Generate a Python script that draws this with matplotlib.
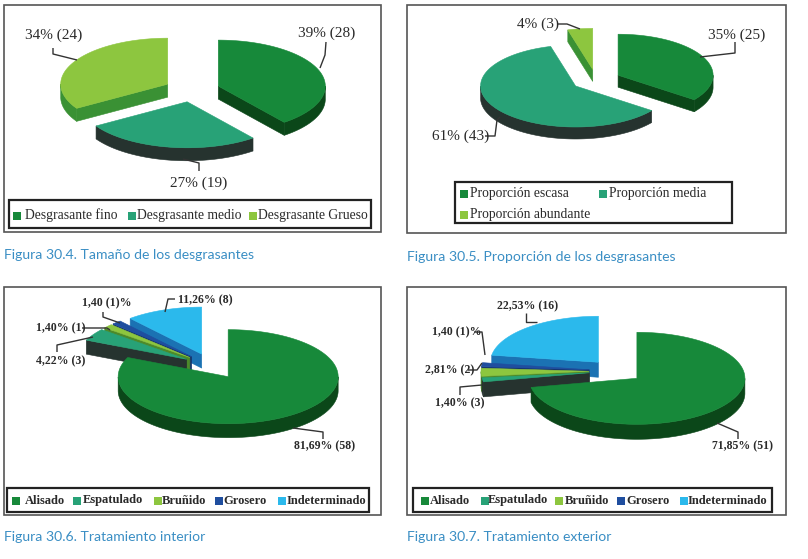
import numpy as np
import matplotlib
matplotlib.use("Agg")
import matplotlib.pyplot as plt
from matplotlib.patches import Polygon, Rectangle

# ---------------- data ----------------
c1_labels = ["Desgrasante fino", "Desgrasante medio", "Desgrasante Grueso"]
c1_values = [28, 19, 24]
c1_text = ["39% (28)", "27% (19)", "34% (24)"]

c2_labels = ["Proporción escasa", "Proporción media", "Proporción abundante"]
c2_values = [25, 43, 3]
c2_text = ["35% (25)", "61% (43)", "4% (3)"]

tr_labels = ["Alisado", "Espatulado", "Bruñido", "Grosero", "Indeterminado"]
c3_values = [58, 3, 1, 1, 8]
c3_text = ["81,69% (58)", "4,22% (3)", "1,40% (1)", "1,40 (1)%", "11,26% (8)"]
c4_values = [51, 1, 2, 1, 16]
c4_text = ["71,85% (51)", "1,40% (3)", "2,81% (2)", "1,40 (1)%", "22,53% (16)"]

captions = ["Figura 30.4. Tamaño de los desgrasantes",
            "Figura 30.5. Proporción de los desgrasantes",
            "Figura 30.6. Tratamiento interior",
            "Figura 30.7. Tratamiento exterior"]

# ---------------- styles ----------------
top3 = ['#17893a', '#28a277', '#8dc63f']
side3 = ['#0b4719', '#26332f', '#3a9134']
top5 = ['#17893a', '#28a277', '#8dc63f', '#1f4e9f', '#2bb9ec']
side5 = ['#0b4719', '#26332f', '#4d8a2a', '#15346e', '#1b72b3']
SERIF = 'Liberation Serif'
TXT = '#2a2a2a'
CAP = '#3a8ec4'

fig = plt.figure(figsize=(8.08, 5.59), dpi=100)
ax = fig.add_axes([0, 0, 1, 1])
ax.set_xlim(0, 808)
ax.set_ylim(559, 0)
ax.axis('off')


def pt(cx, cy, rx, ry, t):
    r = np.radians(t)
    return cx + rx * np.cos(r), cy - ry * np.sin(r)


def pie3d(values, tops, sides, cx, cy, rx, ry, depth, expl):
    total = float(sum(values))
    slices = []
    a0 = 90.0
    for i, v in enumerate(values):
        a1 = a0 - 360.0 * v / total
        mid = np.radians((a0 + a1) / 2)
        sx = cx + expl * rx * np.cos(mid)
        sy = cy - expl * ry * np.sin(mid)
        slices.append((np.sin(mid), i, a0, a1, sx, sy))
        a0 = a1
    slices.sort(key=lambda s: -s[0])
    for _, i, a0, a1, sx, sy in slices:
        n = max(3, int(abs(a0 - a1) * 2))
        ts = np.linspace(a1, a0, n)
        xs, ys = pt(sx, sy, rx, ry, ts)
        # cut faces
        for edge, vis in ((a0, np.cos(np.radians(a0)) < -1e-6),
                          (a1, np.cos(np.radians(a1)) > 1e-6)):
            if vis:
                ex, ey = pt(sx, sy, rx, ry, edge)
                poly = [(sx, sy), (ex, ey), (ex, ey + depth), (sx, sy + depth)]
                ax.add_patch(Polygon(poly, closed=True, fc=sides[i], ec=sides[i], lw=0.4))
        # outer wall (front half)
        front = np.sin(np.radians(ts)) <= 1e-9
        idx = np.where(front)[0]
        if len(idx) > 1:
            runs = np.split(idx, np.where(np.diff(idx) > 1)[0] + 1)
            for run in runs:
                if len(run) < 2:
                    continue
                wx, wy = xs[run], ys[run]
                poly = list(zip(wx, wy)) + list(zip(wx[::-1], wy[::-1] + depth))
                ax.add_patch(Polygon(poly, closed=True, fc=sides[i], ec=sides[i], lw=0.4))
        # top
        poly = [(sx, sy)] + list(zip(xs, ys))
        ax.add_patch(Polygon(poly, closed=True, fc=tops[i], ec=tops[i], lw=0.4))


def frame(x0, y0, x1, y1, lw=1.2, ec='#555555'):
    ax.add_patch(Rectangle((x0, y0), x1 - x0, y1 - y0, fill=False, ec=ec, lw=lw))


def legend_items(box, pos, labels, colors, size, weight):
    frame(*box, lw=1.6, ec='#222222')
    for (sqx, tx, y), lab, col in zip(pos, labels, colors):
        ax.add_patch(Rectangle((sqx, y - 4), 8, 8, fc=col, ec='none'))
        ax.text(tx, y, lab, ha='left', va='center', fontsize=size, family=SERIF,
                weight=weight, color=TXT)


def labels(texts, pos, lines, size, weight):
    for t, (x, y), ln in zip(texts, pos, lines):
        ax.text(x, y, t, ha='left', va='center', fontsize=size, family=SERIF,
                weight=weight, color=TXT)
        lx, ly = zip(*ln)
        ax.plot(lx, ly, color='#333333', lw=1.0, solid_capstyle='butt')


CAPSIZE = 10.1

# ---------------- panel 1 ----------------
frame(4, 5, 381, 232)
pie3d(c1_values, top3, side3, 192, 90, 107, 46, 13, 0.26)
labels(c1_text, [(298, 33), (170, 183), (25, 35)],
       [[(326, 42), (325, 55), (320, 68)],
        [(199, 171), (199, 163), (183, 159)],
        [(53, 48), (53, 54), (77, 60)]], 11, 'normal')
legend_items((9, 200, 371, 228),
             [(13, 25, 215.5), (128, 137, 215.5), (249, 258, 215.5)],
             c1_labels, top3, 9.8, 'normal')
ax.text(4, 255, captions[0], ha='left', va='center', fontsize=CAPSIZE, family='Lato', color=CAP)

# ---------------- panel 2 ----------------
frame(407, 5, 786, 233)
pie3d(c2_values, top3, side3, 596, 80, 95, 41, 12, 0.26)
labels(c2_text, [(708, 35), (432, 136), (517, 24)],
       [[(735, 42), (735, 53), (700, 57)],
        [(485, 136), (495, 136), (497, 120), (500, 117)],
        [(558, 24), (567, 24), (580, 29)]], 11, 'normal')
legend_items((455, 182, 732, 223),
             [(460, 470, 193.5), (599, 609, 193.5), (460, 470, 214.5)],
             c2_labels, top3, 9.8, 'normal')
ax.text(407, 257, captions[1], ha='left', va='center', fontsize=CAPSIZE, family='Lato', color=CAP)

# ---------------- panel 3 ----------------
frame(4, 287, 381, 515)
pie3d(c3_values, top5, side5, 212, 366, 110, 47, 14, 0.27)
labels(c3_text, [(294, 446), (36, 361), (36, 328), (82, 303), (178, 300)],
       [[(323, 439), (323, 432), (293, 428)],
        [(57, 352), (57, 345), (93, 337)],
        [(82, 328), (107, 328), (110, 330)],
        [(103, 312), (103, 317), (120, 323)],
        [(175, 299), (168, 299), (165, 312)]], 8.5, 'bold')
legend_items((7, 488, 369, 512),
             [(12, 25, 500.5), (73, 83, 500.5), (154, 162, 500.5), (215, 223, 500.5),
              (278, 287, 500.5)],
             tr_labels, top5, 9, 'bold')
ax.text(4, 537, captions[2], ha='left', va='center', fontsize=CAPSIZE, family='Lato', color=CAP)

# ---------------- panel 4 ----------------
frame(407, 287, 786, 515)
pie3d(c4_values, top5, side5, 616, 371, 108, 46, 15, 0.25)
labels(c4_text, [(712, 446), (435, 403), (425, 370), (432, 332), (497, 306)],
       [[(738, 439), (738, 432), (717, 423)],
        [(460, 395), (460, 387), (482, 385)],
        [(468, 370), (477, 370), (482, 363)],
        [(474, 332), (482, 332), (485, 355)],
        [(526, 313), (526, 322), (537, 322)]], 8.5, 'bold')
legend_items((413, 488, 772, 512),
             [(421, 430, 500.5), (481, 488, 500.5), (555, 565, 500.5), (617, 626, 500.5),
              (680, 688, 500.5)],
             tr_labels, top5, 9, 'bold')
ax.text(407, 537, captions[3], ha='left', va='center', fontsize=CAPSIZE, family='Lato', color=CAP)

fig.savefig('out.png', dpi=100)
